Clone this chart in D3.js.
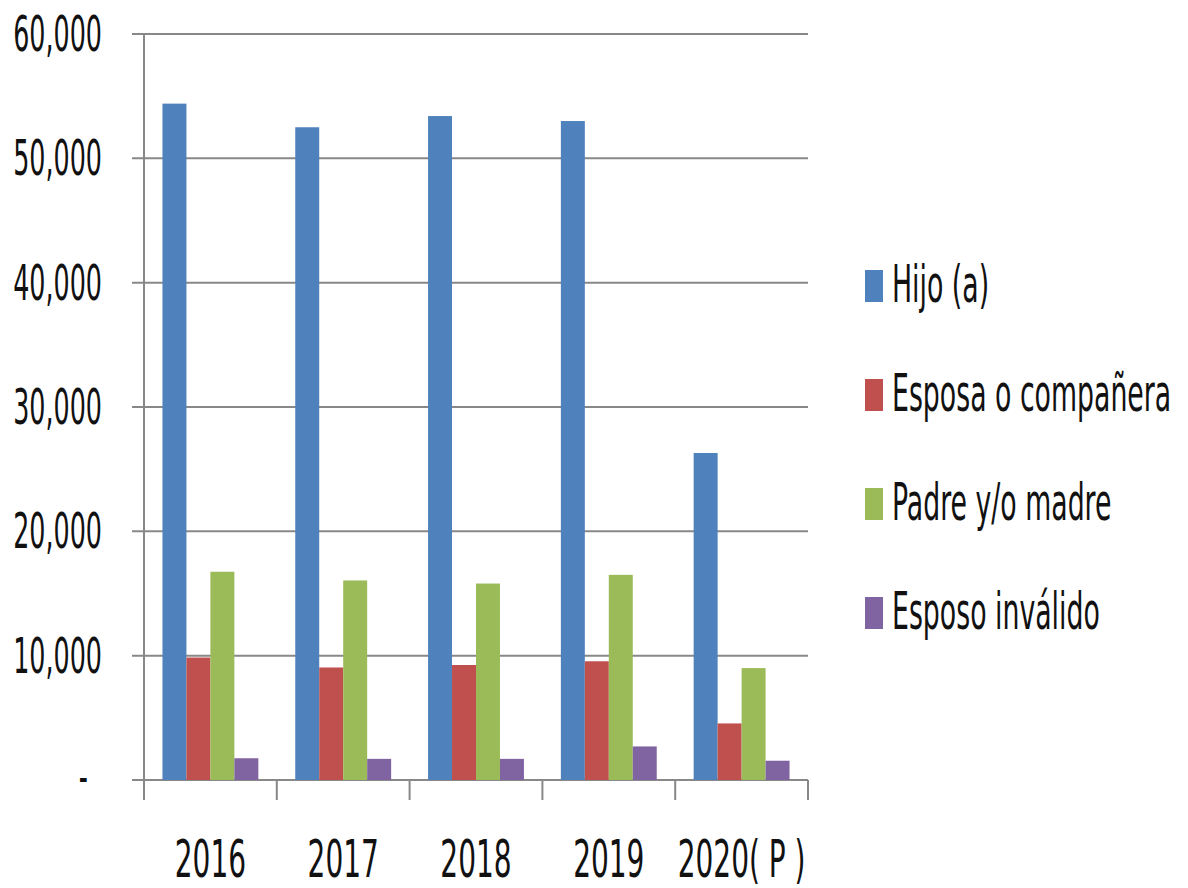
<!DOCTYPE html>
<html lang="en">
<head>
    <meta charset="utf-8">
    <script src='https://d3js.org/d3.v7.min.js'></script>
    <style>
      body { margin: 0; background: #fff; }
      text { font-family: 'DejaVu Sans Condensed', 'Liberation Sans Narrow', sans-serif; fill: #111; }
    </style>
</head>
<body>
<script>
// data
var years = ["2016", "2017", "2018", "2019", "2020( P )"];
var series = ["Hijo (a)", "Esposa o compañera", "Padre y/o madre", "Esposo inválido"];
var hijo = [54400, 52500, 53400, 53000, 26300];
var esposa = [9850, 9050, 9250, 9550, 4550];
var padre = [16750, 16050, 15800, 16500, 9000];
var esposo = [1750, 1700, 1700, 2700, 1550];
var yTicks = [0, 10000, 20000, 30000, 40000, 50000, 60000];
var colors = ['#4f81bd', '#c0504d', '#9bbb59', '#8064a2'];

var values = [hijo, esposa, padre, esposo];
const W = 1188, H = 888;
const plotL = 144, plotR = 808, plotT = 34, plotB = 780;
const squish = 1.45; // text in the picture is tall and narrow

const svg = d3.select("body")
  .append("svg")
  .attr("width", W)
  .attr("height", H);

var x0 = d3.scaleBand().domain(years).range([plotL, plotR]);
var x1 = d3.scaleBand().domain(d3.range(series.length))
  .range([0, x0.bandwidth()]).paddingOuter(0.77);
var y = d3.scaleLinear().domain([0, 60000]).range([plotB, plotT]);

// helper for stretched text
function label(g, x, yy, txt, anchor, size, sx) {
  g.append("g")
    .attr("transform", "translate(" + x + "," + yy + ") scale(" + sx + "," + squish + ")")
    .append("text")
    .attr("text-anchor", anchor)
    .attr("font-size", size)
    .text(txt);
}

// gridlines
svg.append("g").selectAll("line")
  .data(yTicks)
  .enter().append("line")
  .attr("x1", plotL - 12).attr("x2", plotR)
  .attr("y1", d => y(d)).attr("y2", d => y(d))
  .attr("stroke", "#888").attr("stroke-width", 2);

// y axis line
svg.append("line")
  .attr("x1", plotL).attr("x2", plotL)
  .attr("y1", plotT).attr("y2", plotB + 20)
  .attr("stroke", "#888").attr("stroke-width", 2);

// x ticks at category boundaries
var bounds = years.map(d => x0(d)).concat([plotR]);
svg.append("g").selectAll("line")
  .data(bounds.slice(1))
  .enter().append("line")
  .attr("x1", d => d).attr("x2", d => d)
  .attr("y1", plotB).attr("y2", plotB + 20)
  .attr("stroke", "#888").attr("stroke-width", 2);

// bars
var groups = svg.append("g").selectAll("g")
  .data(years)
  .enter().append("g")
  .attr("transform", d => "translate(" + x0(d) + ",0)");

groups.selectAll("rect")
  .data((d, i) => values.map((s, k) => ({ k: k, v: s[i] })))
  .enter().append("rect")
  .attr("x", d => x1(d.k))
  .attr("width", x1.bandwidth())
  .attr("y", d => y(d.v))
  .attr("height", d => plotB - y(d.v))
  .attr("fill", d => colors[d.k]);

// y labels
var yl = svg.append("g");
yTicks.forEach(function(t) {
  if (t === 0) label(yl, 88, y(t) + 14, "-", "end", 34, 0.83);
  else label(yl, 102, y(t) + 17, d3.format(",")(t), "end", 34, 0.83);
});

// x labels
var xl = svg.append("g");
years.forEach(function(d) {
  label(xl, x0(d) + x0.bandwidth() / 2, 877, d, "middle", 35, 0.89);
});

// legend
var lg = svg.append("g");
series.forEach(function(s, i) {
  var cy = 285 + i * 109;
  lg.append("rect")
    .attr("x", 865).attr("y", cy - 15)
    .attr("width", 18).attr("height", 32)
    .attr("fill", colors[i]);
  label(lg, 892, cy + 17, s, "start", 35, 0.85);
});
</script>
</body>
</html>
